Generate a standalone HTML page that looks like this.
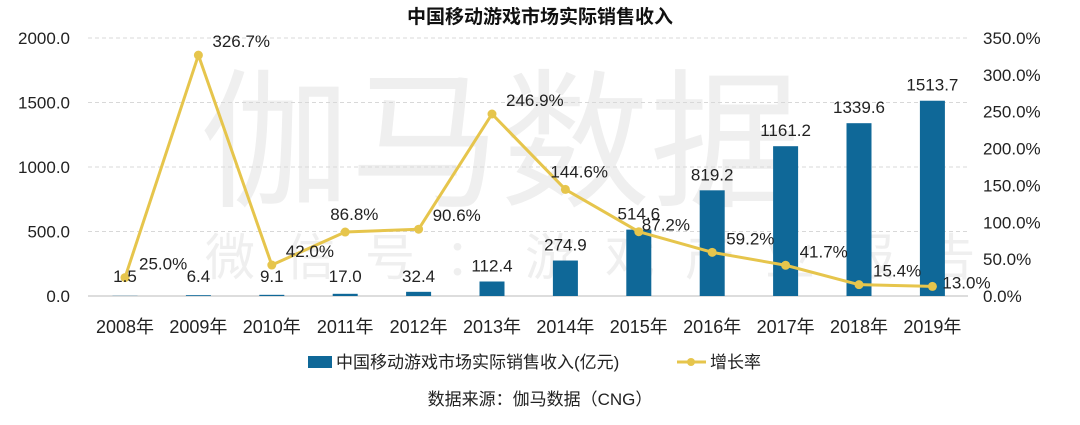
<!DOCTYPE html>
<html><head><meta charset="utf-8">
<style>
body{margin:0;background:#fff;}
svg{display:block;font-family:"Liberation Sans","Noto Sans CJK SC",sans-serif;}
</style></head>
<body>
<svg id="chart" width="1080" height="425" viewBox="0 0 1080 425">
<g fill="#efefef" font-family="'Noto Sans CJK SC',sans-serif">
<text x="200" y="195" font-size="150">伽马数据</text>
<text x="205" y="275" font-size="50" letter-spacing="30">微信号：游戏产业报告</text>
</g>
<text x="540" y="23" text-anchor="middle" font-size="19" font-weight="bold" fill="#111" font-family="'Noto Sans CJK SC',sans-serif">中国移动游戏市场实际销售收入</text>
<g id="grid"></g><g id="bars"></g><g id="line"></g><g id="labels"></g><g id="axes"></g>
<g>
<rect x="308" y="356" width="24" height="12" fill="#0f6898"/>
<text x="336" y="368" font-size="17" fill="#222">中国移动游戏市场实际销售收入(亿元)</text>
<line x1="677" y1="362" x2="706" y2="362" stroke="#e6c54c" stroke-width="3"/>
<circle cx="691" cy="362" r="4" fill="#e6c54c"/>
<text x="710" y="368" font-size="17" fill="#222">增长率</text>
</g>
<text x="540" y="405" text-anchor="middle" font-size="17" fill="#222">数据来源：伽马数据（CNG）</text>
</svg>
<script>
const categories=["2008年","2009年","2010年","2011年","2012年","2013年","2014年","2015年","2016年","2017年","2018年","2019年"];
const revenue=[1.5,6.4,9.1,17.0,32.4,112.4,274.9,514.6,819.2,1161.2,1339.6,1513.7];
const growth=[25.0,326.7,42.0,86.8,90.6,246.9,144.6,87.2,59.2,41.7,15.4,13.0];
const leftTicks=[0,500,1000,1500,2000];
const rightTicks=[0,50,100,150,200,250,300,350];
const NS="http://www.w3.org/2000/svg";
const x0=125,step=73.4,yBase=296,yTop=38;
const xs=i=>x0+i*step;
const yL=v=>yBase-(v/2000)*(yBase-yTop);
const yR=v=>yBase-(v/350)*(yBase-yTop);
function mk(tag,attrs,parent,txt){const e=document.createElementNS(NS,tag);for(const k in attrs)e.setAttribute(k,attrs[k]);if(txt!==undefined)e.textContent=txt;parent.appendChild(e);return e;}
const grid=document.getElementById('grid'),bars=document.getElementById('bars'),line=document.getElementById('line'),labels=document.getElementById('labels'),axes=document.getElementById('axes');
leftTicks.forEach(t=>{
 const l=mk('line',{x1:88,x2:968,y1:yL(t),y2:yL(t),stroke:t===0?'#bbb':'#d8d8d8','stroke-dasharray':t===0?'':'4,3'},grid);
 
 
 const tx=mk('text',{x:70,y:yL(t)+6,'text-anchor':'end','font-size':17,fill:'#222'},axes,t.toFixed(1));
 
 
});
rightTicks.forEach(t=>{
 const tx=mk('text',{x:983,y:yR(t)+6,'font-size':17,fill:'#222'},axes,t.toFixed(1)+'%');
 
 
});
categories.forEach((c,i)=>{
 const tx=mk('text',{x:xs(i),y:333,'text-anchor':'middle','font-size':18,fill:'#222'},axes,c);
 
 
});
revenue.forEach((v,i)=>{
 const r=mk('rect',{x:xs(i)-12.5,y:yL(v),width:25,height:yBase-yL(v),fill:'#0f6898'},bars);
 
 
});
let d='';growth.forEach((g,i)=>{d+=(i?'L':'M')+xs(i)+','+yR(g);});
const p=mk('path',{d:d,fill:'none',stroke:'#e6c54c','stroke-width':3,'stroke-linejoin':'round'},line);


growth.forEach((g,i)=>{
 const c=mk('circle',{cx:xs(i),cy:yR(g),r:4.5,fill:'#e6c54c'},line);
 
 
});
revenue.forEach((v,i)=>{
 const t=mk('text',{x:xs(i),y:Math.min(yL(v)-10,yBase-14),'text-anchor':'middle','font-size':17,fill:'#222'},labels,v.toFixed(1));
 
 
});
growth.forEach((g,i)=>{
 let dx=14,dy=-8;
 if(i===3||i===6){dx=-15;dy=-12;}
 if(i===7){dx=3;dy=-1;}
 if(i===11){dx=10;dy=2;}
 const t=mk('text',{x:xs(i)+dx,y:yR(g)+dy,'font-size':17,fill:'#222'},labels,g.toFixed(1)+'%');
 
 
});
</script>
</body></html>
